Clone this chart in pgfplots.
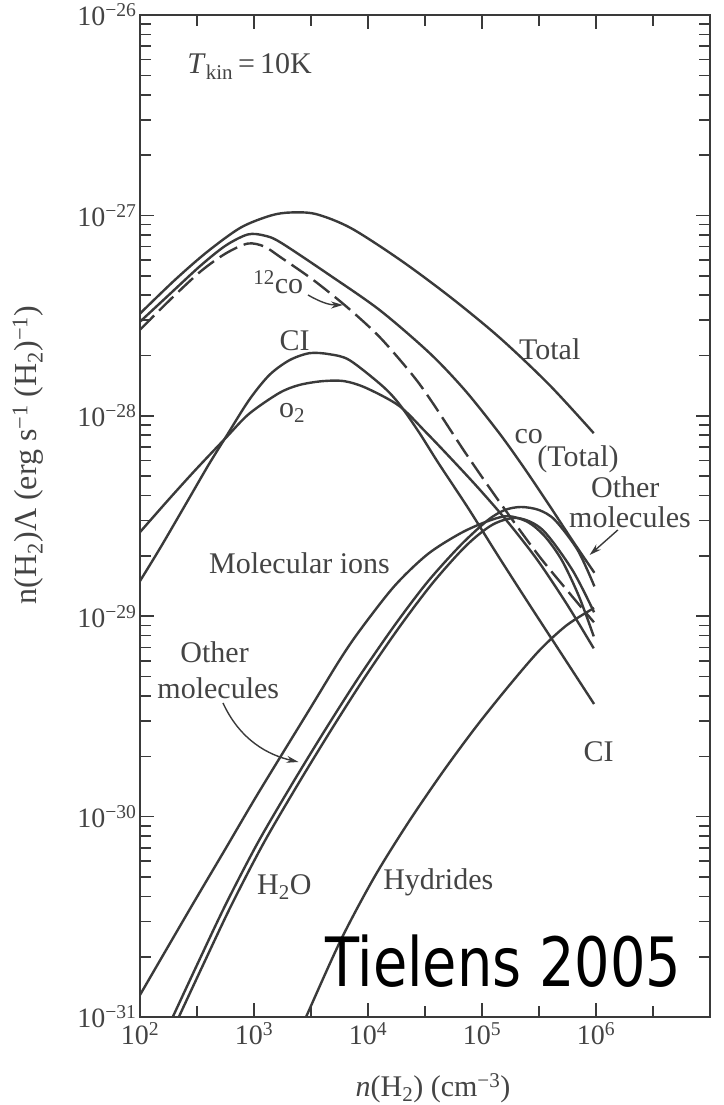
\documentclass[border=0pt]{standalone}
\usepackage{fontspec}
\setmainfont{Liberation Serif}
\newfontfamily\dejavu{DejaVu Sans}
\usepackage{pgfplots}
\pgfplotsset{compat=1.18}
\usetikzlibrary{arrows.meta}
\definecolor{ink}{HTML}{3A3A3A}
\definecolor{txt}{HTML}{444444}
\pgfplotsset{curve/.style={ink, line width=2.4pt, no markers, smooth, tension=0.5}}
\begin{document}
\begin{tikzpicture}[x=1pt,y=1pt]
\path[use as bounding box] (0pt,0pt) rectangle (723pt,1105pt);
\begin{axis}[
  at={(140pt,88pt)}, anchor=south west,
  scale only axis, width=570pt, height=1002pt,
  xmode=log, ymode=log,
  xmin=1e2, xmax=1e7, ymin=1e-31, ymax=1e-26,
  axis line style={ink, line width=2.2pt},
  tick align=inside,
  major tick length=14pt, minor tick length=11pt,
  every tick/.style={ink, line width=1.6pt},
  xtick={1e2,1e3,1e4,1e5,1e6,1e7},
  xticklabels={10\textsuperscript{2},10\textsuperscript{3},10\textsuperscript{4},10\textsuperscript{5},10\textsuperscript{6},{}},
  minor xtick={316.228,3162.28,31622.8,316228,3162278},
  ytick={1e-31,1e-30,1e-29,1e-28,1e-27,1e-26},
  yticklabels={10\textsuperscript{−31},10\textsuperscript{−30},10\textsuperscript{−29},10\textsuperscript{−28},10\textsuperscript{−27},10\textsuperscript{−26}},
  minor ytick={2e-31,3e-31,4e-31,5e-31,6e-31,7e-31,8e-31,9e-31,
               2e-30,3e-30,4e-30,5e-30,6e-30,7e-30,8e-30,9e-30,
               2e-29,3e-29,4e-29,5e-29,6e-29,7e-29,8e-29,9e-29,
               2e-28,3e-28,4e-28,5e-28,6e-28,7e-28,8e-28,9e-28,
               2e-27,3e-27,4e-27,5e-27,6e-27,7e-27,8e-27,9e-27},
  ticklabel style={font=\fontsize{28}{30}\selectfont, text=txt},
  xticklabel style={yshift=-2pt},
  clip=true,
]
% Total
\addplot[curve] coordinates {(100,3.24e-28) (204.2,4.79e-28) (391.7,6.61e-28) (767.4,8.71e-28) (1409,1.0e-27) (2113,1.035e-27) (3499,1.016e-27) (7079,8.65e-28) (19320,5.98e-28) (52600,3.92e-28) (142900,2.455e-28) (389000,1.43e-28) (955000,8.20e-29)};
% CO total
\addplot[curve] coordinates {(100,2.95e-28) (184,4.07e-28) (340,5.62e-28) (565,7.08e-28) (883,8.04e-28) (1230,7.94e-28) (1714,7.33e-28) (4677,5.01e-28) (12760,3.36e-28) (34750,2.056e-28) (70790,1.343e-28) (140300,8.26e-29) (230100,5.58e-29) (379300,3.66e-29) (623700,2.38e-29) (968300,1.648e-29)};
% 12CO (dashed)
\addplot[curve, dash pattern=on 20pt off 7pt] coordinates {(100,2.69e-28) (184,3.80e-28) (339,5.25e-28) (564,6.46e-28) (881,7.24e-28) (1230,7.00e-28) (1710,6.19e-28) (3319,4.76e-28) (6546,3.49e-28) (12680,2.47e-28) (24550,1.60e-28) (36560,1.17e-28) (71780,6.52e-29) (138700,3.80e-29) (307600,2.04e-29) (594300,1.29e-29) (959400,9.33e-30)};
% CI
\addplot[curve] coordinates {(100,1.50e-29) (151.7,2.21e-29) (264.2,3.80e-29) (399,5.69e-29) (565,7.83e-29) (905.7,1.20e-28) (1365,1.60e-28) (2051,1.897e-28) (3076,2.056e-28) (4603,2.03e-28) (6887,1.897e-28) (13370,1.41e-28) (18750,1.148e-28) (27930,8.30e-29) (41500,5.81e-29) (75510,3.47e-29) (137100,2.02e-29) (248900,1.19e-29) (520000,6.25e-30) (961600,3.65e-30)};
% O2
\addplot[curve] coordinates {(100,2.63e-29) (176.6,3.80e-29) (306.2,5.37e-29) (565,7.76e-29) (903.6,1.023e-28) (1663,1.30e-28) (2495,1.426e-28) (3981,1.49e-28) (6194,1.49e-28) (9660,1.377e-28) (18750,1.122e-28) (31990,8.32e-29) (50930,6.31e-29) (92680,4.37e-29) (168700,2.95e-29) (306900,1.905e-29) (555900,1.148e-29) (955000,6.92e-30)};
% Molecular ions
\addplot[curve] coordinates {(100,1.29e-31) (280.5,3.54e-31) (553.4,6.81e-31) (1089,1.31e-30) (3041,3.40e-30) (5623,6.03e-30) (8492,8.51e-30) (17020,1.413e-29) (33340,2.04e-29) (65160,2.60e-29) (112700,2.985e-29) (169000,3.16e-29) (252900,2.95e-29) (354800,2.51e-29) (501200,1.905e-29) (707900,1.26e-29) (955000,7.94e-30)};
% Other molecules
\addplot[curve] coordinates {(158.5,7.83e-32) (193.6,1.0e-31) (316.2,1.82e-31) (562.3,3.63e-31) (1079,7.41e-31) (2168,1.462e-30) (4276,2.75e-30) (8395,5.01e-30) (16870,8.91e-30) (33110,1.479e-29) (65010,2.265e-29) (112700,3.02e-29) (158500,3.39e-29) (220300,3.51e-29) (316200,3.39e-29) (436500,3.02e-29) (690200,2.14e-29) (968300,1.41e-29)};
% H2O
\addplot[curve] coordinates {(177.8,7.76e-32) (218.8,1.0e-31) (357.3,1.82e-31) (635.3,3.63e-31) (1219,7.41e-31) (2449,1.462e-30) (4831,2.75e-30) (9484,5.01e-30) (19050,8.91e-30) (37410,1.479e-29) (73450,2.265e-29) (125900,2.88e-29) (207000,3.09e-29) (342000,2.69e-29) (620900,1.70e-29) (961600,1.047e-29)};
% Hydrides
\addplot[curve] coordinates {(2630,9.0e-32) (2858,1.0e-31) (5768,2.42e-31) (11380,5.00e-31) (22390,9.29e-31) (44870,1.66e-30) (88310,2.80e-30) (173400,4.52e-30) (320600,6.78e-30) (555900,9.04e-30) (961600,1.10e-29)};
\end{axis}
% labels (picture coordinates)
\begin{scope}[every node/.style={text=txt, font=\fontsize{30}{34}\selectfont, inner sep=0pt}]
\node at (249.5pt,1038pt) {\textit{T}\textsubscript{kin}\,=\,10K};
\node at (549.7pt,756pt) {Total};
\node at (278.3pt,823pt) {\textsuperscript{12}co};
\node at (294.7pt,764pt) {CI};
\node at (292pt,692pt) {o\textsubscript{2}};
\node at (528.8pt,668pt) {co};
\node at (578pt,646pt) {(Total)};
\node at (625.3pt,618pt) {Other};
\node at (630pt,588pt) {molecules};
\node at (299.5pt,542pt) {Molecular ions};
\node at (214.6pt,453pt) {Other};
\node at (218.3pt,417pt) {molecules};
\node at (284.3pt,218pt) {H\textsubscript{2}O};
\node at (438.3pt,223pt) {Hydrides};
\node at (598.6pt,353pt) {CI};
\node at (433pt,17pt) {\textit{n}(H\textsubscript{2}) (cm\textsuperscript{−3})};
\node[rotate=90, font=\fontsize{32}{36}\selectfont] at (28pt,650pt) {n(H\textsubscript{2})Λ (erg s\textsuperscript{−1} (H\textsubscript{2})\textsuperscript{−1})};
\end{scope}
\draw[ink, line width=1.4pt, -{Stealth[length=12pt,width=7pt]}] (308pt,810pt) .. controls (322pt,802pt) and (330pt,800pt) .. (343pt,800pt);
\draw[ink, line width=1.4pt, -{Stealth[length=12pt,width=7pt]}] (617.8pt,575pt) -- (589.6pt,550pt);
\draw[ink, line width=1.4pt, -{Stealth[length=12pt,width=7pt]}] (223pt,402pt) .. controls (240pt,365pt) and (268pt,350pt) .. (298.5pt,343pt);
\node[anchor=base west, inner sep=0pt, text=black] at (325pt,118pt) {\scalebox{0.82}[1]{\dejavu\fontsize{68}{70}\selectfont Tielens 2005}};
\end{tikzpicture}
\end{document}
